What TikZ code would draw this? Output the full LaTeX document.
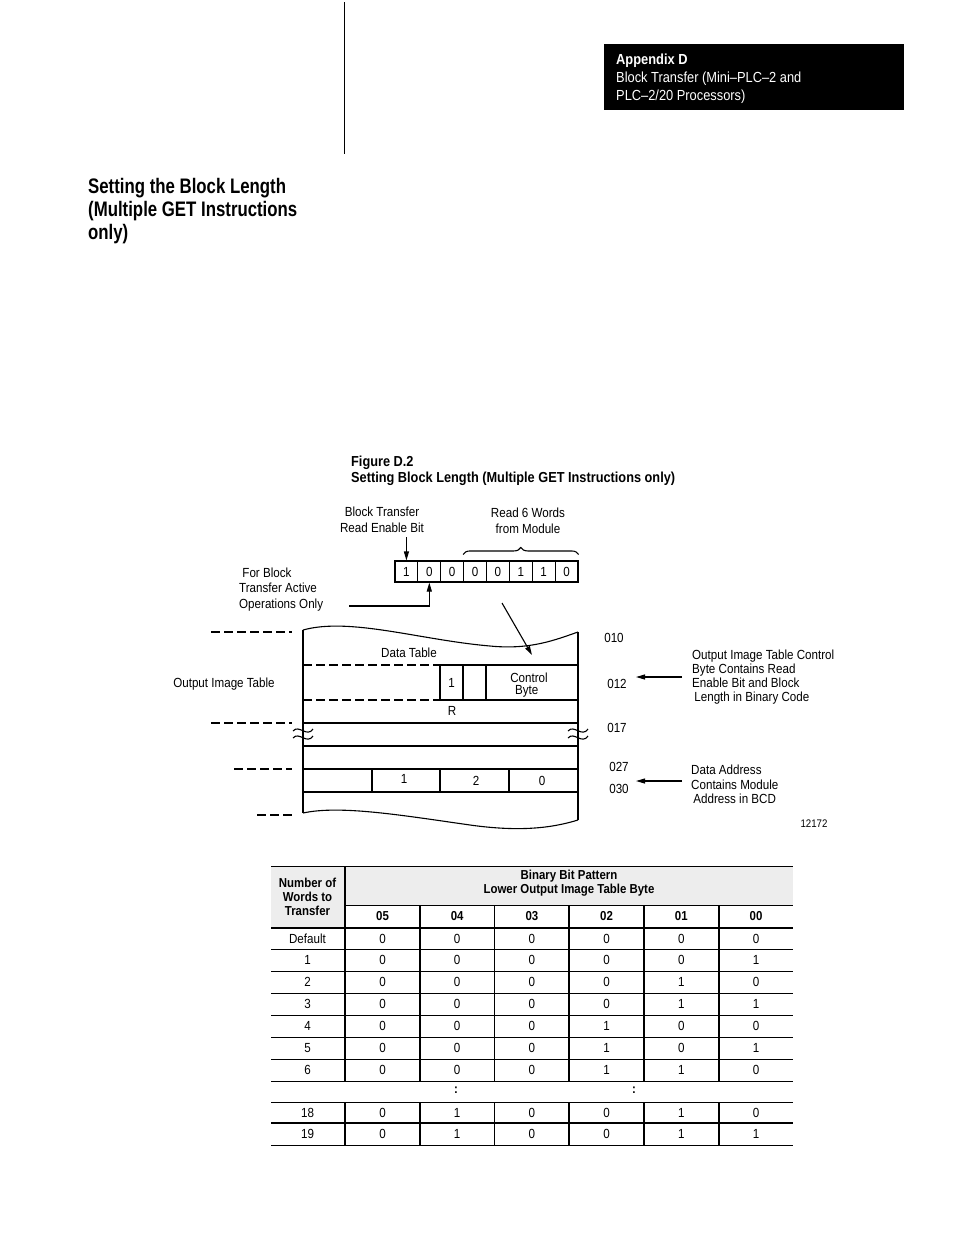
\documentclass[tikz,border=0pt]{standalone}
\usepackage{fontspec}
\setmainfont{Liberation Sans}[FakeStretch=0.88]
\newfontfamily\titlefont{Liberation Sans}[FakeStretch=0.80]
\usetikzlibrary{arrows.meta,decorations.pathreplacing}
\tikzset{
  txt/.style={font=\fontsize{13.2}{15.5}\selectfont, inner sep=0pt, align=center},
  txtb/.style={font=\bfseries\fontsize{13}{14}\selectfont, inner sep=0pt, align=center},
  cell/.style={draw, line width=1.1pt, minimum width=22.875pt, minimum height=21pt, inner sep=0pt, font=\fontsize{13.2}{15}\selectfont},
  arr/.style={line width=1.1pt, -{Triangle[length=9pt,width=5pt]}},
  ln/.style={line width=1.1pt},
  dsh/.style={line width=1.1pt, dash pattern=on 8.5pt off 4.5pt},
  thin/.style={line width=0.9pt},
  thick2/.style={line width=1.8pt},
  approx/.pic={
    \draw[line width=1.1pt] (-10,-2) .. controls (-4,-9) and (4,5) .. (10,-4);
    \draw[line width=1.1pt] (-10,5) .. controls (-4,-2) and (4,12) .. (10,3);
  }
}
\begin{document}
\begin{tikzpicture}[x=1pt,y=-1pt]
\useasboundingbox (0,0) rectangle (954,1235);
\fill[white] (0,0) rectangle (954,1235);

% page header
\draw[line width=0.9pt] (344,2) -- (344,154);
\node[fill=black, minimum width=300pt, minimum height=66pt, inner sep=0pt] (hdrbox) at (754,77) {};
\node[anchor=west, text=white, inner sep=0pt, align=left, font=\fontsize{14.6}{18}\selectfont] (hdrtxt) at (616,79)
  {\textbf{Appendix D}\\Block Transfer (Mini–PLC–2 and\\PLC–2/20 Processors)};

% section title
\node[anchor=west, inner sep=0pt, align=left, font=\titlefont\bfseries\fontsize{21}{23}\selectfont] (title) at (88,211.5)
  {Setting the Block Length\\(Multiple GET Instructions\\only)};

% figure caption
\node[anchor=west, txtb, align=left, font=\bfseries\fontsize{14.5}{16}\selectfont] (caption) at (351,471)
  {Figure D.2\\Setting Block Length (Multiple GET Instructions only)};

% bit row
\foreach \v [count=\i] in {1,0,0,0,0,1,1,0} {
  \node[cell] (b\i) at ({395+11.4375+22.875*(\i-1)},571.5) {\v};
}
\node[txt] (rebl) at (382,520) {Block Transfer\\Read Enable Bit};
\draw[arr] (b1.north |- 0,537) -- (b1.north);
\node[txt] (r6w) at (528,521) {Read 6 Words\\from Module};
\draw[line width=1.1pt, decorate, decoration={brace, amplitude=7pt}] ([yshift=6pt]b4.north west) -- ([yshift=6pt]b8.north east);
\node[txt, align=left, anchor=west] (fbt) at (239,589.5) {\ For Block\\Transfer Active\\Operations Only};
\coordinate (fbend) at (349,606);
\draw[arr] (fbend) -| (b2.south);

% diagonal arrow into data table
\coordinate (diagS) at (502,603);
\coordinate (diagE) at (532,655);
\draw[arr] (diagS) -- (diagE);

% data table outline
\draw[ln] (303,630) .. controls (350,617) and (420,640) .. (490,646)
          .. controls (530,650) and (555,640) .. (578,632);
\draw[ln] (303,813) .. controls (340,805) and (400,815) .. (470,825)
          .. controls (520,832) and (552,828) .. (578,820);
\draw[ln] (303,630) -- (303,813);
\draw[ln] (578,632) -- (578,820);
\draw[dsh] (303,665) -- (440,665);
\draw[ln] (440,665) -- (578,665);
\draw[dsh] (303,700) -- (440,700);
\draw[ln] (440,700) -- (578,700);
\foreach \yy in {723,746,769,792} \draw[ln] (303,\yy) -- (578,\yy);
\foreach \xx in {440,463,486} \draw[ln] (\xx,665) -- (\xx,700);
\foreach \xx in {372,440,509} \draw[ln] (\xx,769) -- (\xx,792);
\pic at (303,733) {approx};
\pic at (578,733) {approx};

\node[txt] (dtl) at (409,653) {Data Table};
\node[txt] (one1) at (451.5,683) {1};
\node[txt, font=\fontsize{13.2}{12}\selectfont] (ctlb) at (529,685) {Control\\Byte\,\,};
\node[txt] (rlbl) at (452,711) {R};
\node[txt] (m1) at (404,779) {1};
\node[txt] (m2) at (476,781) {2};
\node[txt] (m0) at (542,781) {0};

% left dashed lines
\draw[dsh] (211,632) -- (292,632);
\draw[dsh] (211,723) -- (292,723);
\draw[dsh] (234,769) -- (292,769);
\draw[dsh] (257,815) -- (292,815);
\node[txt] (oit) at (224,684) {Output Image Table};

% right addresses
\node[txt] (a010) at (614,638) {010};
\node[txt] (a012) at (617,684) {012};
\node[txt] (a017) at (617,728) {017};
\node[txt] (a027) at (619,767) {027};
\node[txt] (a030) at (619,789) {030};

\node[txt, align=left, anchor=west, font=\fontsize{13.2}{14}\selectfont] (oitc) at (692,677)
  {Output Image Table Control\\Byte Contains Read\\Enable Bit and Block\\\,Length in Binary Code};
\coordinate (arr1s) at (682,677);
\coordinate (arr1e) at (636,677);
\draw[arr] (arr1s) -- (arr1e);

\node[txt, align=left, anchor=west, font=\fontsize{13.2}{14.5}\selectfont] (dadr) at (691,784.5)
  {Data Address\\Contains Module\\\,Address in BCD};
\coordinate (arr2s) at (682,781);
\coordinate (arr2e) at (636,781);
\draw[arr] (arr2s) -- (arr2e);

\node[txt, font=\fontsize{11}{13}\selectfont] (fignum) at (814,824) {12172};

% ---------- table ----------
\fill[black!7] (271,866) rectangle (345,928);
\fill[black!7] (345,866) rectangle (793,905);
\draw[thin] (271,866) -- (793,866);
\draw[thin] (345,905) -- (793,905);
\draw[thick2] (271,928) -- (793,928);
\foreach \yy in {949,971,993,1015,1037,1059,1081,1102,1145} \draw[thin] (271,\yy) -- (793,\yy);
\draw[line width=1.4pt] (271,1123) -- (793,1123);
\draw[thick2] (345,866) -- (345,1081);
\draw[thick2] (345,1102) -- (345,1145);
\foreach \xx in {420,494.5,569,644,719} {
  \draw[thick2] (\xx,905) -- (\xx,1081);
  \draw[thick2] (\xx,1102) -- (\xx,1145);
}
\node[txtb] (hnw) at (307.5,896.5) {Number of\\Words to\\Transfer};
\node[txtb] (hbbp) at (569,883.5) {Binary Bit Pattern\\Lower Output Image Table Byte};
\foreach \c [count=\i] in {05,04,03,02,01,00} {
  \node[txtb] (hc\i) at ({382.5+74.7*(\i-1)},916.5) {\c};
}
\foreach \lab/\a/\b/\c/\d/\e/\f/\yy [count=\r] in {
  Default/0/0/0/0/0/0/938.5,
  1/0/0/0/0/0/1/960,
  2/0/0/0/0/1/0/982,
  3/0/0/0/0/1/1/1004,
  4/0/0/0/1/0/0/1026,
  5/0/0/0/1/0/1/1048,
  6/0/0/0/1/1/0/1070,
  18/0/1/0/0/1/0/1112.5,
  19/0/1/0/0/1/1/1134} {
  \node[txt] (rl\r) at (307.5,\yy) {\lab};
  \foreach \v [count=\k] in {\a,\b,\c,\d,\e,\f} {
    \node[txt] (v\r-\k) at ({382.5+74.7*(\k-1)},\yy) {\v};
  }
}
\node[txtb] (dots1) at (456,1090) {:};
\node[txtb] (dots2) at (634,1090) {:};
\end{tikzpicture}
\end{document}
